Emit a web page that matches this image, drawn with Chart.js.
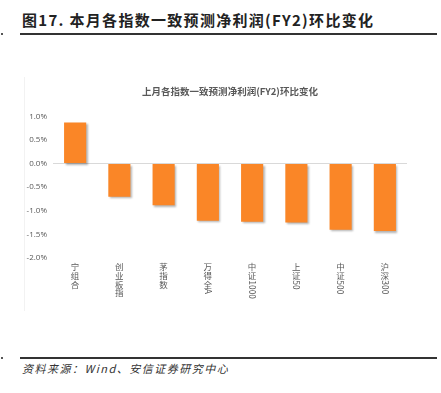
<!DOCTYPE html>
<html>
<head>
<meta charset="utf-8">
<script src="https://cdn.jsdelivr.net/npm/chart.js@4/dist/chart.umd.min.js"></script>
<style>
  body { margin: 0; background: #fff; width: 441px; height: 393px; position: relative; overflow: hidden; font-family: "Noto Sans CJK SC", "Liberation Sans", sans-serif; }
  #head { position: absolute; left: 22px; top: 9px; font-size: 15px; font-weight: bold; color: #222; letter-spacing: 1.3px; }
  .rule { position: absolute; left: 20px; width: 417px; height: 2px; background: #333; }
  .dot { position: absolute; left: 1px; width: 2px; height: 2px; background: #555; }
  #src { position: absolute; left: 22px; top: 360px; font-size: 11px; font-style: italic; color: #333; letter-spacing: 1.5px; }
  #frame { position: absolute; left: 24px; top: 77px; width: 1px; height: 234px; background: #F2F2F2; }
  #box { position: absolute; left: 24px; top: 80px; width: 412px; height: 232px; }
</style>
</head>
<body>
<div id="head">图17. 本月各指数一致预测净利润(FY2)环比变化</div>
<div class="rule" style="top:33px"></div>
<div class="dot" style="top:33px"></div>
<div id="frame"></div>
<div id="box"><canvas id="c"></canvas></div>
<div class="rule" style="top:357px"></div>
<div class="dot" style="top:357px"></div>
<div id="src">资料来源：Wind、安信证券研究中心</div>
<script>
// 指数名称
const categories = ['宁组合', '创业板指', '茅指数', '万得全A', '中证1000', '上证50', '中证500', '沪深300'];
// 环比变化 (%)
const changes = [0.87, -0.70, -0.88, -1.21, -1.23, -1.25, -1.40, -1.43];
const yTicks = [1.0, 0.5, 0.0, -0.5, -1.0, -1.5, -2.0];
const chartTitle = '上月各指数一致预测净利润(FY2)环比变化';

// 竖排标签：汉字直立，数字/字母旋转
const verticalLabels = {
    id: 'verticalLabels',
    afterDraw(chart) {
        const ctx = chart.ctx;
        const xs = chart.scales.x;
        const top = chart.chartArea.bottom + 5;
        ctx.save();
        ctx.fillStyle = '#595959';
        ctx.font = '8.5px "Noto Sans CJK SC", sans-serif';
        categories.forEach((lab, i) => {
            const x = xs.getPixelForValue(i);
            let y = top;
            const parts = lab.match(/[A-Za-z0-9]+|./g);
            parts.forEach(p => {
                if (/^[A-Za-z0-9]+$/.test(p)) {
                    const w = ctx.measureText(p).width;
                    ctx.save();
                    ctx.translate(x, y);
                    ctx.rotate(Math.PI / 2);
                    ctx.textAlign = 'left';
                    ctx.textBaseline = 'middle';
                    ctx.fillText(p, 0, 0);
                    ctx.restore();
                    y += w + 1;
                } else {
                    ctx.textAlign = 'center';
                    ctx.textBaseline = 'top';
                    ctx.fillText(p, x, y);
                    y += 8.6;
                }
            });
        });
        ctx.restore();
    }
};

// 柱子阴影
const barShadow = {
    id: 'barShadow',
    beforeDatasetsDraw(chart) {
        chart.ctx.save();
        chart.ctx.shadowColor = 'rgba(0,0,0,0.3)';
        chart.ctx.shadowBlur = 2;
        chart.ctx.shadowOffsetX = 1.5;
        chart.ctx.shadowOffsetY = 1.5;
    },
    afterDatasetsDraw(chart) {
        chart.ctx.restore();
    }
};

new Chart(document.getElementById('c'), {
    type: 'bar',
    data: {
        labels: categories,
        datasets: [{
            data: changes,
            backgroundColor: '#FA8627',
            borderWidth: 0,
            categoryPercentage: 1,
            barPercentage: 0.5
        }]
    },
    options: {
        responsive: true,
        maintainAspectRatio: false,
        animation: false,
        plugins: {
            legend: { display: false },
            tooltip: { enabled: false },
            title: {
                display: true,
                text: chartTitle,
                color: '#595959',
                font: { size: 9.5, weight: 'bold', family: '"Noto Sans CJK SC", sans-serif' },
                padding: { top: 6, bottom: 19 }
            }
        },
        scales: {
            x: {
                grid: { display: false },
                border: { display: false },
                ticks: { display: false },
                afterFit(s) { s.height = 54; }
            },
            y: {
                min: -2,
                max: 1,
                afterFit(s) { s.width = 29; },
                afterBuildTicks(s) { s.ticks = yTicks.map(v => ({ value: v })); },
                border: { display: false },
                grid: {
                    drawTicks: false,
                    color: c => c.tick && c.tick.value === 0 ? '#D9D9D9' : 'rgba(0,0,0,0)'
                },
                ticks: {
                    color: '#595959',
                    padding: 6,
                    font: { size: 8, family: '"Open Sans", sans-serif' },
                    callback: v => v.toFixed(1) + '%'
                }
            },
            // 右侧留白
            yRight: {
                position: 'right',
                min: -2,
                max: 1,
                afterFit(s) { s.width = 29; },
                border: { display: false },
                grid: { display: false },
                ticks: { display: false }
            }
        }
    },
    plugins: [barShadow, verticalLabels]
});
</script>
</body>
</html>
